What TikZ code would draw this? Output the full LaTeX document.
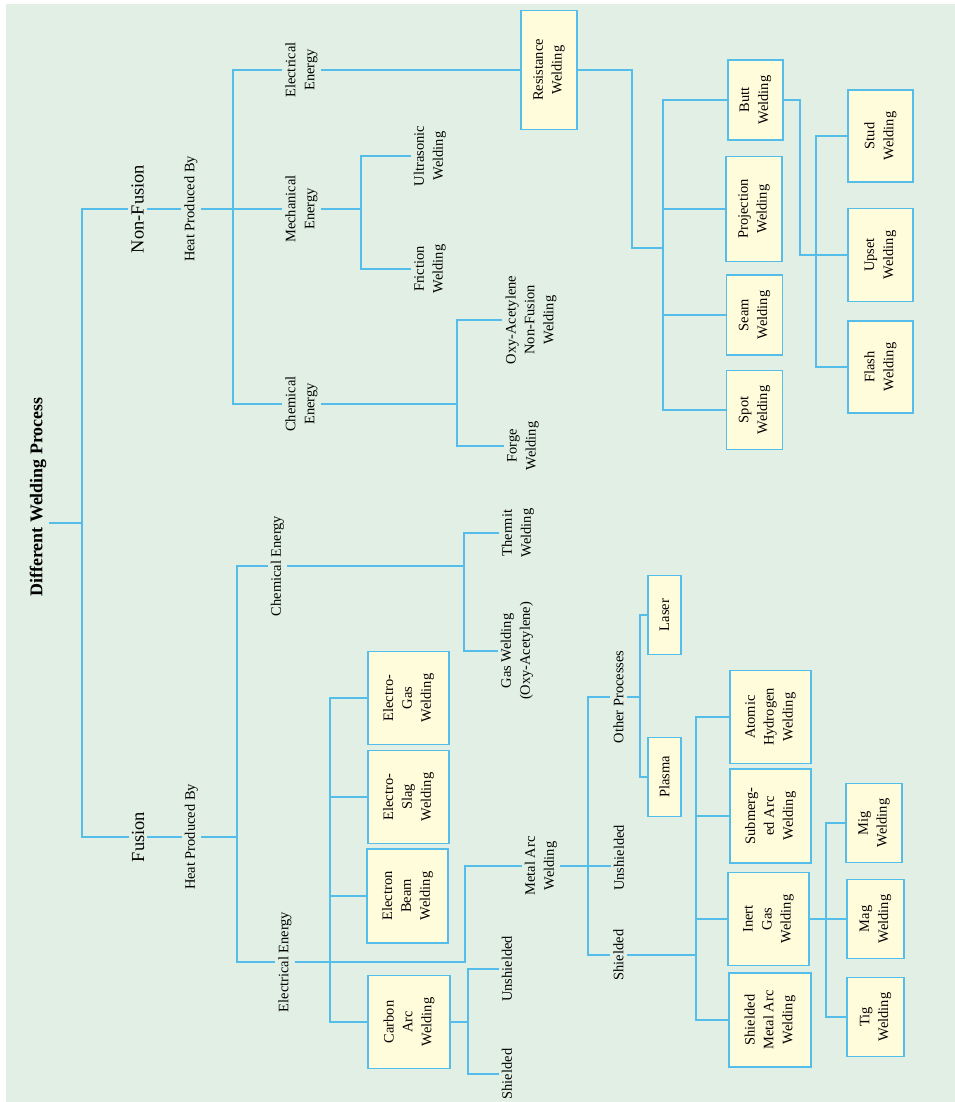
\documentclass[tikz,border=0pt]{standalone}
\usepackage{fontspec}
\setmainfont{Liberation Serif}
\usepackage{tikz}

\definecolor{bgGreen}{HTML}{E1EFE5}
\definecolor{lineBlue}{HTML}{55BDEA}
\definecolor{boxYellow}{HTML}{FFFCDB}

\begin{document}
\begin{tikzpicture}[x=1bp,y=-1bp,
	wire/.style={draw=lineBlue,line width=1.3bp},
	lbl/.style={rotate=90,align=center,inner sep=3bp,font=\fontsize{14.5}{19}\selectfont},
	head/.style={rotate=90,inner sep=3bp,font=\fontsize{18.5}{22}\selectfont},
	wbox/.style={rotate=90,align=center,draw=lineBlue,line width=1.5bp,fill=boxYellow,inner sep=0pt,font=\fontsize{14.5}{19}\selectfont}]
	\useasboundingbox (0,0) rectangle (955,1102);
	\fill[bgGreen] (6,4) rectangle (955,1102);

	\node[head,font=\bfseries\fontsize{18}{22}\selectfont] (title) at (38,497) {Different Welding Process};

	% non-fusion side
	\node[head] (nonfusion) at (137.5,209) {Non-Fusion};
	\node[lbl] (nfheat) at (191,209) {Heat Produced By};
	\node[lbl] (nfelec) at (301.5,70) {Electrical\\Energy};
	\node[lbl] (nfmech) at (301.5,209) {Mechanical\\Energy};
	\node[lbl] (nfchem) at (301.5,404) {Chemical\\Energy};
	\node[lbl] (ultra) at (430,156) {Ultrasonic\\Welding};
	\node[lbl] (friction) at (430,269) {Friction\\Welding};
	\node[lbl] (oxy) at (531,320) {Oxy-Acetylene\\Non-Fusion\\Welding};
	\node[lbl] (forge) at (523,446) {Forge\\Welding};
	\node[wbox,minimum width=119bp,minimum height=56bp] (resist) at (549,70) {Resistance\\Welding};
	\node[wbox,minimum width=80bp,minimum height=55bp] (butt) at (755.5,100) {Butt\\Welding};
	\node[wbox,minimum width=105bp,minimum height=56bp] (proj) at (754,209) {Projection\\Welding};
	\node[wbox,minimum width=80bp,minimum height=56bp] (seam) at (754.5,315) {Seam\\Welding};
	\node[wbox,minimum width=79bp,minimum height=56bp] (spot) at (754.5,410) {Spot\\Welding};
	\node[wbox,minimum width=92bp,minimum height=65bp] (stud) at (880.5,136) {Stud\\Welding};
	\node[wbox,minimum width=93bp,minimum height=65bp] (upset) at (880.5,255) {Upset\\Welding};
	\node[wbox,minimum width=92bp,minimum height=65bp] (flash) at (880.5,367) {Flash\\Welding};

	% fusion side
	\node[head] (fusion) at (138,837) {Fusion};
	\node[lbl] (fheat) at (191.5,837) {Heat Produced By};
	\node[lbl] (fchem) at (277.5,566) {Chemical Energy};
	\node[lbl] (felec) at (285,962) {Electrical Energy};
	\node[lbl] (thermit) at (518,533) {Thermit\\Welding};
	\node[lbl] (gas) at (517,651) {Gas Welding\\(Oxy-Acetylene)};
	\node[lbl] (metalarc) at (541,866) {Metal Arc\\Welding};
	\node[lbl] (caunsh) at (507,969) {Unshielded};
	\node[lbl] (cash) at (507,1074) {Shielded};
	\node[lbl] (maunsh) at (619,858) {Unshielded};
	\node[lbl] (mash) at (618.5,955) {Shielded};
	\node[lbl] (other) at (618.5,697) {Other Processes};
	\node[wbox,minimum width=93bp,minimum height=81bp] (egas) at (408.5,698) {Electro-\\Gas\\Welding};
	\node[wbox,minimum width=93bp,minimum height=81bp] (eslag) at (408.5,797) {Electro-\\Slag\\Welding};
	\node[wbox,minimum width=94bp,minimum height=81bp] (ebeam) at (407.5,896) {Electron\\Beam\\Welding};
	\node[wbox,minimum width=93bp,minimum height=82bp] (carbon) at (409,1022) {Carbon\\Arc\\Welding};
	\node[wbox,minimum width=79bp,minimum height=33bp] (laser) at (664.5,615) {Laser};
	\node[wbox,minimum width=79bp,minimum height=33bp] (plasma) at (664.5,777) {Plasma};
	\node[wbox,minimum width=93bp,minimum height=81bp] (atomic) at (770.5,717) {Atomic\\Hydrogen\\Welding};
	\node[wbox,minimum width=94bp,minimum height=81bp] (subm) at (770.5,816) {Submerg-\\ed Arc\\Welding};
	\node[wbox,minimum width=93bp,minimum height=81bp] (inert) at (768.5,919) {Inert\\Gas\\Welding};
	\node[wbox,minimum width=94bp,minimum height=82bp] (smaw) at (770,1020) {Shielded\\Metal Arc\\Welding};
	\node[wbox,minimum width=79bp,minimum height=56bp] (mig) at (874,823) {Mig\\Welding};
	\node[wbox,minimum width=79bp,minimum height=57bp] (mag) at (875.5,919) {Mag\\Welding};
	\node[wbox,minimum width=79bp,minimum height=57bp] (tig) at (875.5,1017) {Tig\\Welding};

	% junctions
	\coordinate (root) at (82,523);
	\coordinate (nfj) at (233,209);
	\coordinate (mechj) at (361,209);
	\coordinate (nfchemj) at (457,404);
	\coordinate (rwk) at (632,248);
	\coordinate (rwj) at (663,248);
	\coordinate (buttk) at (800,255);
	\coordinate (buttj) at (816,255);
	\coordinate (fj) at (237,837);
	\coordinate (fchemj) at (464,566);
	\coordinate (elecj) at (330,962);
	\coordinate (mak) at (465,866);
	\coordinate (carbj) at (468,1022);
	\coordinate (maj) at (588,866);
	\coordinate (opj) at (640,697);
	\coordinate (shj) at (696,955);
	\coordinate (igj) at (826,919);

	\draw[wire] (title.south |- root) -- (root);
	\draw[wire] (root) |- (nonfusion.north);
	\draw[wire] (root) |- (fusion.north);

	\draw[wire] (nonfusion.south) -- (nfheat.north);
	\draw[wire] (nfheat.south) -- (nfmech.north);
	\draw[wire] (nfj) |- (nfelec.north);
	\draw[wire] (nfj) |- (nfchem.north);
	\draw[wire] (nfelec.south) -- (resist.north);
	\draw[wire] (nfmech.south) -- (mechj) |- (ultra.north);
	\draw[wire] (mechj) |- (friction.north);
	\draw[wire] (nfchem.south) -- (nfchemj) |- (oxy.north);
	\draw[wire] (nfchemj) |- (forge.north);
	\draw[wire] (resist.south) -| (rwk) -- (rwj);
	\draw[wire] (rwj) |- (butt.north);
	\draw[wire] (rwj) |- (proj.north);
	\draw[wire] (rwj) |- (seam.north);
	\draw[wire] (rwj) |- (spot.north);
	\draw[wire] (butt.south) -| (buttk) -- (upset.north);
	\draw[wire] (buttj) |- (stud.north);
	\draw[wire] (buttj) |- (flash.north);

	\draw[wire] (fusion.south) -- (fheat.north);
	\draw[wire] (fheat.south) -- (fj);
	\draw[wire] (fj) |- (fchem.north);
	\draw[wire] (fj) |- (felec.north);
	\draw[wire] (fchem.south) -- (fchemj) |- (thermit.north);
	\draw[wire] (fchemj) |- (gas.north);
	\draw[wire] (felec.south) -| (mak) -- (metalarc.north);
	\draw[wire] (elecj) |- (egas.north);
	\draw[wire] (elecj) |- (eslag.north);
	\draw[wire] (elecj) |- (ebeam.north);
	\draw[wire] (elecj) |- (carbon.north);
	\draw[wire] (carbon.south) -- (carbj) |- (caunsh.north);
	\draw[wire] (carbj) |- (cash.north);
	\draw[wire] (metalarc.south) -- (metalarc.south -| maunsh.north);
	\draw[wire] (maj) |- (other.north);
	\draw[wire] (maj) |- (mash.north);
	\draw[wire] (other.south) -- (opj) |- (laser.north);
	\draw[wire] (opj) |- (plasma.north);
	\draw[wire] (mash.south) -- (shj) |- (atomic.north);
	\draw[wire] (shj) |- (subm.north);
	\draw[wire] (shj) |- (inert.north);
	\draw[wire] (shj) |- (smaw.north);
	\draw[wire] (inert.south) -- (mag.north);
	\draw[wire] (igj) |- (mig.north);
	\draw[wire] (igj) |- (tig.north);
\end{tikzpicture}
\end{document}
